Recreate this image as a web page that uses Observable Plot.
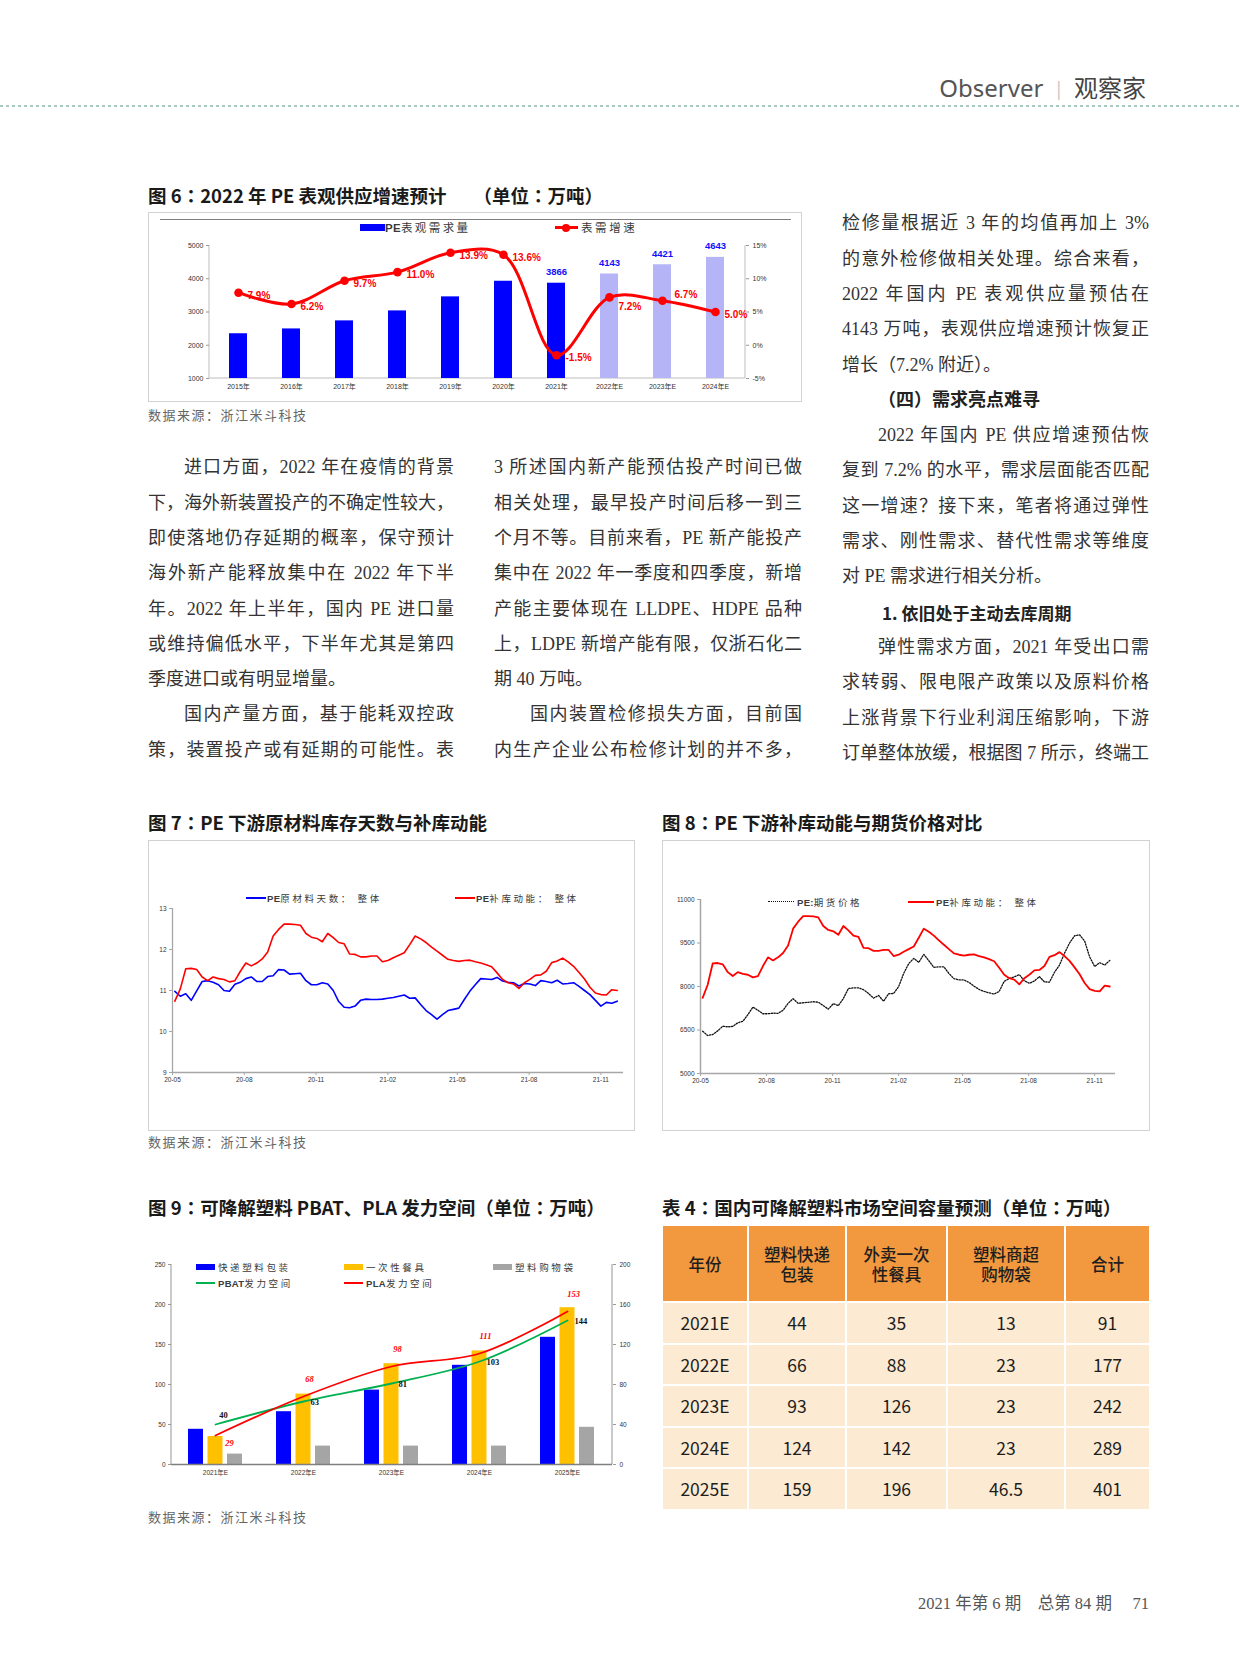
<!DOCTYPE html>
<html><head><meta charset="utf-8">
<script src="https://cdn.jsdelivr.net/npm/d3@7"></script>
<script src="https://cdn.jsdelivr.net/npm/@observablehq/plot@0.6"></script>
<style>
body{margin:0;background:#fff;}
#page{position:relative;width:1240px;height:1680px;overflow:hidden;background:#fff;font-family:"Noto Sans CJK SC","Noto Sans",sans-serif;color:#333;}
.abs{position:absolute;white-space:nowrap;}
.title{font-size:18.5px;font-weight:700;color:#1a1a1a;height:26px;line-height:26px;letter-spacing:0;}
.title .c{font-family:"Noto Sans CJK TC","Noto Sans CJK SC",sans-serif;}
.caption{font-family:"Liberation Serif","Noto Sans CJK SC",serif;font-size:13px;letter-spacing:1.5px;color:#666;height:20px;line-height:20px;}
.bline{position:absolute;box-sizing:border-box;height:35.3px;line-height:35.3px;font-size:18px;font-family:"Liberation Serif","Noto Sans CJK SC",serif;color:#333;white-space:nowrap;text-align:justify;text-align-last:justify;}
.bline.last{text-align-last:left;}
.bline.head{font-weight:700;color:#222;text-align-last:left;}
.bline.head2{font-family:"Noto Sans CJK SC",sans-serif;font-weight:700;font-size:17px;color:#222;text-align-last:left;}
.box{position:absolute;box-sizing:border-box;border:1.5px solid #d2d2d2;}
.chart{position:absolute;}
.leg{position:absolute;white-space:nowrap;font-size:9.5px;letter-spacing:2.6px;color:#3a3a3a;height:14px;line-height:14px;}
.leg b{font-family:"Liberation Sans",Arial,sans-serif;font-weight:700;letter-spacing:0.3px;}
.sw{position:absolute;}
table.t4{position:absolute;border-collapse:collapse;table-layout:fixed;}
table.t4 td{border:2px solid #fff;text-align:center;padding:0;color:#1e1e1e;}
table.t4 tr.h td{background:#f2983e;height:75px;font-size:16.5px;line-height:20px;font-weight:500;white-space:pre-line;}
table.t4 tr.r td{background:#fcead2;height:39.5px;font-size:17.5px;}
</style></head>
<body><div id="page"></div>
<script>
// ---------------- DATA ----------------
// Figure 6
const years6 = ["2015年","2016年","2017年","2018年","2019年","2020年","2021年","2022年E","2023年E","2024年E"];
const demand6 = [2346, 2491, 2733, 3033, 3455, 3925, 3866, 4143, 4421, 4643];
const growth6 = [7.9, 6.2, 9.7, 11.0, 13.9, 13.6, -1.5, 7.2, 6.7, 5.0];
const leftTicks6 = [1000, 2000, 3000, 4000, 5000];
const rightTicks6 = [-5, 0, 5, 10, 15];

// Figures 7 & 8 (weekly observations starting 2020-05-04)
const weekStart = "2020-05-04";
const stockDays7 = [10.98,10.86,10.92,10.76,10.99,11.22,11.24,11.2,11.14,11.0,10.98,11.15,11.2,11.29,11.33,11.22,11.22,11.34,11.36,11.51,11.5,11.4,11.41,11.42,11.24,11.14,11.14,11.19,11.16,11.0,10.73,10.59,10.58,10.62,10.76,10.79,10.78,10.78,10.79,10.81,10.83,10.86,10.89,10.81,10.82,10.66,10.51,10.41,10.3,10.41,10.51,10.54,10.57,10.78,10.98,11.14,11.29,11.28,11.27,11.32,11.23,11.2,11.19,11.11,11.17,11.16,11.12,11.24,11.22,11.19,11.25,11.16,11.17,11.19,11.1,11.0,10.9,10.76,10.62,10.71,10.69,10.74];
const restock7 = [10.74,11.04,11.53,11.54,11.51,11.33,11.24,11.33,11.29,11.27,11.21,11.24,11.47,11.67,11.6,11.67,11.77,11.94,12.33,12.49,12.62,12.62,12.61,12.59,12.39,12.3,12.27,12.19,12.39,12.29,12.17,12.14,11.89,11.88,11.82,11.82,11.84,11.84,11.7,11.73,11.8,11.86,11.92,12.12,12.33,12.26,12.17,12.06,11.96,11.86,11.76,11.73,11.71,11.73,11.74,11.7,11.67,11.63,11.58,11.43,11.27,11.19,11.16,11.05,11.19,11.27,11.37,11.38,11.47,11.68,11.72,11.79,11.7,11.59,11.44,11.28,11.08,10.94,10.9,10.89,11.02,11.0];
const futures8 = [6457,6309,6343,6470,6630,6610,6625,6750,6800,7030,7290,7180,7060,7060,7080,7075,7180,7420,7580,7420,7440,7455,7475,7460,7340,7220,7410,7340,7585,7930,7953,7953,7890,7760,7600,7690,7494,7750,7760,8000,8450,8790,8970,8830,9110,8890,8660,8680,8680,8450,8270,8230,8225,8140,8010,7900,7830,7780,7740,7830,8180,8275,8330,8410,8200,8110,8190,8340,8160,8150,8490,8740,9150,9500,9750,9780,9570,9020,8690,8820,8740,8900];
const monthTicks = ["20-05","20-08","20-11","21-02","21-05","21-08","21-11"];
const axisEnd78 = "2021-11-30";
const ticks7 = [9, 10, 11, 12, 13];
const ticks8 = [5000, 6500, 8000, 9500, 11000];
const restockAxis8 = [9, 13]; // hidden secondary axis of Fig 8

// Figure 9 / Table 4
const years9 = ["2021年E","2022年E","2023年E","2024年E","2025年E"];
const tableYears = ["2021E","2022E","2023E","2024E","2025E"];
const express = [44, 66, 93, 124, 159];
const takeout = [35, 88, 126, 142, 196];
const bags = [13, 23, 23, 23, 46.5];
const totals = [91, 177, 242, 289, 401];
const pbat = [40, 63, 81, 103, 144];
const pla = [29, 68, 98, 111, 153];
const leftTicks9 = [0, 50, 100, 150, 200, 250];
const rightTicks9 = [0, 40, 80, 120, 160, 200];
const tableHeaders = ["年份", "塑料快递\n包装", "外卖一次\n性餐具", "塑料商超\n购物袋", "合计"];

// ---------------- HELPERS ----------------
const page = document.getElementById("page");
const NS = "http://www.w3.org/2000/svg";
const plain = d => String(d);
function el(tag, cls, style, html) {
  const e = document.createElement(tag);
  if (cls) e.className = cls;
  if (style) e.style.cssText = style;
  if (html != null) e.innerHTML = html;
  page.appendChild(e);
  return e;
}
function chartStyle(fs) {
  return {background: "transparent", fontFamily: '"Liberation Sans", Arial, "Noto Sans CJK SC", sans-serif', fontSize: fs + "px", color: "#333", overflow: "visible"};
}
function sideLines(sides, stroke, sw) {
  return (index, scales, values, dims) => {
    const g = document.createElementNS(NS, "g");
    const L = dims.marginLeft, R = dims.width - dims.marginRight, T = dims.marginTop, B = dims.height - dims.marginBottom;
    const seg = {left: [L, T, L, B], right: [R, T, R, B], bottom: [L, B, R, B], top: [L, T, R, T]};
    for (const s of sides) {
      const [x1, y1, x2, y2] = seg[s];
      const l = document.createElementNS(NS, "line");
      l.setAttribute("x1", x1); l.setAttribute("y1", y1);
      l.setAttribute("x2", x2); l.setAttribute("y2", y2);
      l.setAttribute("stroke", stroke); l.setAttribute("stroke-width", sw);
      g.appendChild(l);
    }
    return g;
  };
}
function place(svg, left, top) {
  const d = el("div", "chart", `left:${left}px;top:${top}px;`);
  d.appendChild(svg);
  return d;
}
const parseDay = d3.utcParse("%Y-%m-%d");
const parseTick = d3.utcParse("%y-%m");
const C = '<span class="c">：</span>';

// ---------------- PAGE HEADER ----------------
el("div", "abs", "right:94px;top:69px;font-size:24px;line-height:36px;color:#4a4a4a;",
  '<span style="font-family:\'Noto Sans\',sans-serif;color:#555;">Observer</span><span style="color:#bbb;font-size:17px;margin:0 13px;position:relative;top:-2px;">|</span><span style="color:#444;">观察家</span>');
el("div", "abs", "left:0;top:105px;width:1240px;height:2px;background:repeating-linear-gradient(to right,#a7cbbd 0 3px,transparent 3px 6px);");

// ---------------- FIGURE 6 ----------------
el("div", "abs title", "left:148px;top:182px;", `图 6${C}2022 年 PE 表观供应增速预计　&nbsp;&nbsp;（单位${C}万吨）`);
el("div", "box", "left:148px;top:212px;width:654px;height:190px;");
const rows6 = years6.map((year, i) => ({year, demand: demand6[i], growth: growth6[i], forecast: year.endsWith("E")}));
const gY = g => 1000 + (g + 5) * 200; // right axis (-5%..15%) onto left axis (1000..5000)
const pctLabel = {x: "year", y: d => gY(d.growth), text: d => d.growth.toFixed(1) + "%", dx: 9, textAnchor: "start", fill: "#ff0000", fontWeight: "bold", fontSize: 10};
const fig6 = Plot.plot({
  width: 654, height: 190, marginLeft: 61, marginRight: 57, marginTop: 33, marginBottom: 24,
  style: chartStyle(7),
  x: {type: "band", domain: years6, paddingInner: 0.66, paddingOuter: 0.33},
  y: {domain: [1000, 5000]},
  marks: [
    sideLines(["left", "right", "bottom"], "#bdbdbd", 1),
    Plot.barY(rows6, {x: "year", y1: 1000, y2: "demand", fill: d => d.forecast ? "#b4b4f6" : "#0000ff"}),
    Plot.axisY({ticks: leftTicks6, tickFormat: plain, tickSize: 3, tickPadding: 3, label: null, stroke: "#999", fill: "#333"}),
    Plot.axisY({anchor: "right", ticks: rightTicks6.map(gY), tickFormat: d => ((d - 1000) / 200 - 5) + "%", tickSize: 3, tickPadding: 4, label: null, stroke: "#999", fill: "#333"}),
    Plot.axisX({tickSize: 0, tickPadding: 6, label: null, fill: "#333"}),
    Plot.line(rows6, {x: "year", y: d => gY(d.growth), stroke: "#ff0000", strokeWidth: 3, curve: "catmull-rom"}),
    Plot.dot(rows6, {x: "year", y: d => gY(d.growth), r: 4.3, fill: "#ff0000"}),
    Plot.text(rows6.filter(d => d.year !== "2022年E" && d.year !== "2023年E"), {...pctLabel, dy: 3}),
    Plot.text(rows6.filter(d => d.year === "2022年E"), {...pctLabel, dy: 9}),
    Plot.text(rows6.filter(d => d.year === "2023年E"), {...pctLabel, dx: 12, dy: -6}),
    Plot.text(rows6.filter(d => d.year >= "2021"), {x: "year", y: "demand", text: d => String(d.demand), dy: -11, fill: "#1010ff", fontWeight: "bold", fontSize: 9.5})
  ]
});
place(fig6, 148, 212);
el("div", "sw", "left:160px;top:218.5px;width:631px;height:1.5px;background:#7f7f7f;");
el("div", "sw", "left:360px;top:224px;width:25px;height:7px;background:#0000ff;");
el("div", "leg", "left:385px;top:220px;font-size:11.5px;letter-spacing:2.4px;", "<b>PE</b>表观需求量");
el("div", "sw", "left:555px;top:226px;width:23px;height:3px;background:#ff0000;");
el("div", "sw", "left:562px;top:223.5px;width:8px;height:8px;border-radius:50%;background:#ff0000;");
el("div", "leg", "left:581px;top:220px;font-size:11.5px;letter-spacing:2.6px;", "表需增速");
el("div", "abs caption", "left:148px;top:406px;", "数据来源：浙江米斗科技");

// ---------------- BODY TEXT ----------------
const colLeft = [
  ["进口方面，2022 年在疫情的背景", "i"], ["下，海外新装置投产的不确定性较大，"], ["即使落地仍存延期的概率，保守预计"],
  ["海外新产能释放集中在 2022 年下半"], ["年。2022 年上半年，国内 PE 进口量"], ["或维持偏低水平，下半年尤其是第四"],
  ["季度进口或有明显增量。", "l"], ["国内产量方面，基于能耗双控政", "i"], ["策，装置投产或有延期的可能性。表"]
];
const colMid = [
  ["3 所述国内新产能预估投产时间已做"], ["相关处理，最早投产时间后移一到三"], ["个月不等。目前来看，PE 新产能投产"],
  ["集中在 2022 年一季度和四季度，新增"], ["产能主要体现在 LLDPE、HDPE 品种"], ["上，LDPE 新增产能有限，仅浙石化二"],
  ["期 40 万吨。", "l"], ["国内装置检修损失方面，目前国", "i"], ["内生产企业公布检修计划的并不多，"]
];
const colRight = [
  ["检修量根据近 3 年的均值再加上 3%"], ["的意外检修做相关处理。综合来看，"], ["2022 年国内 PE 表观供应量预估在"],
  ["4143 万吨，表观供应增速预计恢复正"], ["增长（7.2% 附近）。", "l"], ["（四）需求亮点难寻", "h"],
  ["2022 年国内 PE 供应增速预估恢", "i"], ["复到 7.2% 的水平，需求层面能否匹配"], ["这一增速？接下来，笔者将通过弹性"],
  ["需求、刚性需求、替代性需求等维度"], ["对 PE 需求进行相关分析。", "l"], ["1. 依旧处于主动去库周期", "h2"],
  ["弹性需求方面，2021 年受出口需", "i"], ["求转弱、限电限产政策以及原料价格"], ["上涨背景下行业利润压缩影响，下游"],
  ["订单整体放缓，根据图 7 所示，终端工"]
];
function column(lines, left, width, firstCenter) {
  lines.forEach(([t, f], k) => {
    let cls = "bline", pad = 0;
    if (f === "i") pad = 36;
    if (f === "l") cls += " last";
    if (f === "h") { cls += " head"; pad = 36; }
    if (f === "h2") { cls += " head2"; pad = 40; }
    const top = firstCenter + k * 35.3 - 17.65;
    const d = el("div", cls, `left:${left}px;top:${top}px;width:${width}px;padding-left:${pad}px;`);
    d.textContent = t;
  });
}
column(colLeft, 148, 306, 468);
column(colMid, 494, 308, 468);
column(colRight, 842, 307, 224);

// ---------------- FIGURE 7 ----------------
const t0 = parseDay(weekStart);
const weekRows = stockDays7.map((v, i) => ({date: d3.utcDay.offset(t0, 7 * i), days: v, restock: restock7[i], futures: futures8[i]}));
const tickDates = monthTicks.map(parseTick);
const xDomain78 = [tickDates[0], parseDay(axisEnd78)];
el("div", "abs title", "left:148px;top:809px;", `图 7${C}PE 下游原材料库存天数与补库动能`);
el("div", "box", "left:148px;top:840px;width:487px;height:291px;");
const fig7 = Plot.plot({
  width: 487, height: 291, marginLeft: 24, marginRight: 12, marginTop: 68, marginBottom: 59,
  style: chartStyle(6.5),
  x: {type: "utc", domain: xDomain78},
  y: {domain: [ticks7[0], ticks7[ticks7.length - 1]]},
  marks: [
    Plot.ruleY([ticks7[0]], {stroke: "#a6a6a6", strokeWidth: 1.3}),
    Plot.ruleX([xDomain78[0]], {y1: ticks7[0], y2: ticks7[ticks7.length - 1], stroke: "#a6a6a6", strokeWidth: 1.3}),
    Plot.axisY({ticks: ticks7, tickFormat: plain, tickSize: 3, tickPadding: 3, label: null, stroke: "#a6a6a6", fill: "#333"}),
    Plot.axisX({ticks: tickDates, tickFormat: d3.utcFormat("%y-%m"), tickSize: 3, tickPadding: 2, label: null, stroke: "#a6a6a6", fill: "#333"}),
    Plot.line(weekRows, {x: "date", y: "days", stroke: "#0000ff", strokeWidth: 1.6}),
    Plot.line(weekRows, {x: "date", y: "restock", stroke: "#ff0000", strokeWidth: 1.6})
  ]
});
place(fig7, 148, 840);
el("div", "sw", "left:246px;top:897px;width:20px;height:2px;background:#0000ff;");
el("div", "leg", "left:267px;top:891px;", "<b>PE</b>原材料天数：&nbsp;整体");
el("div", "sw", "left:455px;top:897px;width:20px;height:2px;background:#ff0000;");
el("div", "leg", "left:476px;top:891px;", "<b>PE</b>补库动能：&nbsp;整体");
el("div", "abs caption", "left:148px;top:1133px;", "数据来源：浙江米斗科技");

// ---------------- FIGURE 8 ----------------
el("div", "abs title", "left:662px;top:809px;", `图 8${C}PE 下游补库动能与期货价格对比`);
el("div", "box", "left:662px;top:840px;width:488px;height:291px;");
const [y8lo, y8hi] = [ticks8[0], ticks8[ticks8.length - 1]];
const toLeft8 = v => y8lo + (v - restockAxis8[0]) * (y8hi - y8lo) / (restockAxis8[1] - restockAxis8[0]);
const fig8 = Plot.plot({
  width: 488, height: 291, marginLeft: 38, marginRight: 35, marginTop: 59, marginBottom: 58,
  style: chartStyle(6.5),
  x: {type: "utc", domain: xDomain78},
  y: {domain: [y8lo, y8hi]},
  marks: [
    Plot.ruleY([y8lo], {stroke: "#a6a6a6", strokeWidth: 1.5}),
    Plot.ruleX([xDomain78[0]], {y1: y8lo, y2: y8hi, stroke: "#a6a6a6", strokeWidth: 1.5}),
    Plot.axisY({ticks: ticks8, tickFormat: plain, tickSize: 3, tickPadding: 3, label: null, stroke: "#a6a6a6", fill: "#333"}),
    Plot.axisX({ticks: tickDates, tickFormat: d3.utcFormat("%y-%m"), tickSize: 3, tickPadding: 2, label: null, stroke: "#a6a6a6", fill: "#333"}),
    Plot.line(weekRows, {x: "date", y: "futures", stroke: "#111", strokeWidth: 1.3, strokeDasharray: "1.3,1.5"}),
    Plot.line(weekRows, {x: "date", y: d => toLeft8(d.restock), stroke: "#ff0000", strokeWidth: 1.8})
  ]
});
place(fig8, 662, 840);
el("div", "sw", "left:768px;top:901px;width:26px;height:0;border-top:1.3px dotted #111;");
el("div", "leg", "left:797px;top:895px;", "<b>PE:</b>期货价格");
el("div", "sw", "left:908px;top:901px;width:26px;height:2px;background:#ff0000;");
el("div", "leg", "left:936px;top:895px;", "<b>PE</b>补库动能：&nbsp;整体");

// ---------------- FIGURE 9 ----------------
el("div", "abs title", "left:148px;top:1194px;", `图 9${C}可降解塑料 PBAT、PLA 发力空间（单位${C}万吨）`);
const rows9 = years9.map((year, i) => ({year, express: express[i], takeout: takeout[i], bags: bags[i], pbat: pbat[i], pla: pla[i], first: i === 0}));
const k9 = leftTicks9[leftTicks9.length - 1] / rightTicks9[rightTicks9.length - 1]; // right axis onto left
const bw9 = 88.2 * (1 - 0.382), barW9 = 15.5, gap9 = (bw9 - 3 * barW9) / 2;
const serifLbl = "Liberation Serif, serif";
const fig9 = Plot.plot({
  width: 490, height: 250, marginLeft: 23, marginRight: 26, marginTop: 24, marginBottom: 26,
  style: chartStyle(6.5),
  x: {type: "band", domain: years9, paddingInner: 0.382, paddingOuter: 0.191},
  y: {domain: [0, 250]},
  marks: [
    sideLines(["left", "right"], "#a6a6a6", 1.2),
    Plot.barY(rows9, {x: "year", y: "express", fill: "#0000ff", insetLeft: 0, insetRight: bw9 - barW9}),
    Plot.barY(rows9, {x: "year", y: "takeout", fill: "#ffc000", insetLeft: barW9 + gap9, insetRight: barW9 + gap9}),
    Plot.barY(rows9, {x: "year", y: "bags", fill: "#a5a5a5", insetLeft: bw9 - barW9, insetRight: 0}),
    Plot.ruleY([0], {stroke: "#7f7f7f", strokeWidth: 1.5}),
    Plot.axisY({ticks: leftTicks9, tickFormat: plain, tickSize: 3, tickPadding: 3, label: null, stroke: "#999", fill: "#333"}),
    Plot.axisY({anchor: "right", ticks: rightTicks9.map(v => v * k9), tickFormat: d => String(d / k9), tickSize: 3, tickPadding: 4, label: null, stroke: "#999", fill: "#333"}),
    Plot.axisX({tickSize: 0, tickPadding: 6, label: null, fill: "#333"}),
    Plot.line(rows9, {x: "year", y: d => d.pbat * k9, stroke: "#00b050", strokeWidth: 1.8, curve: "catmull-rom"}),
    Plot.line(rows9, {x: "year", y: d => d.pla * k9, stroke: "#ff0000", strokeWidth: 1.8, curve: "catmull-rom"}),
    Plot.text(rows9.filter(d => d.first), {x: "year", y: d => d.pbat * k9, text: d => String(d.pbat), dx: 8, dy: -9, fill: "#111", fontWeight: "bold", fontSize: 8.5, fontFamily: serifLbl}),
    Plot.text(rows9.filter(d => !d.first), {x: "year", y: d => d.pbat * k9, text: d => String(d.pbat), dx: 7, dy: 1, textAnchor: "start", fill: "#111", fontWeight: "bold", fontSize: 8.5, fontFamily: serifLbl}),
    Plot.text(rows9.filter(d => d.first), {x: "year", y: d => d.pla * k9, text: d => String(d.pla), dx: 14, dy: 8, fill: "#ff0000", fontWeight: "bold", fontStyle: "italic", fontSize: 8.5, fontFamily: serifLbl}),
    Plot.text(rows9.filter(d => !d.first), {x: "year", y: d => d.pla * k9, text: d => String(d.pla), dx: 6, dy: -17, fill: "#ff0000", fontWeight: "bold", fontStyle: "italic", fontSize: 8.5, fontFamily: serifLbl})
  ]
});
place(fig9, 148, 1240);
el("div", "sw", "left:196px;top:1264px;width:19px;height:6px;background:#0000ff;");
el("div", "leg", "left:218px;top:1260px;", "快递塑料包装");
el("div", "sw", "left:344px;top:1264px;width:19px;height:6px;background:#ffc000;");
el("div", "leg", "left:366px;top:1260px;", "一次性餐具");
el("div", "sw", "left:493px;top:1264px;width:19px;height:6px;background:#a5a5a5;");
el("div", "leg", "left:515px;top:1260px;", "塑料购物袋");
el("div", "sw", "left:196px;top:1282px;width:19px;height:1.6px;background:#00b050;");
el("div", "leg", "left:218px;top:1276px;", "<b>PBAT</b>发力空间");
el("div", "sw", "left:344px;top:1282px;width:19px;height:1.6px;background:#ff0000;");
el("div", "leg", "left:366px;top:1276px;", "<b>PLA</b>发力空间");
el("div", "abs caption", "left:148px;top:1508px;", "数据来源：浙江米斗科技");

// ---------------- TABLE 4 ----------------
el("div", "abs title", "left:662px;top:1194px;", `表 4${C}国内可降解塑料市场空间容量预测（单位${C}万吨）`);
const colW = [86, 98, 101, 118, 85];
const tbl = el("table", "t4", "left:661px;top:1224px;width:490px;");
const cg = document.createElement("colgroup");
colW.forEach(w => { const c = document.createElement("col"); c.style.width = w + "px"; cg.appendChild(c); });
tbl.appendChild(cg);
const tb = document.createElement("tbody");
const hr = document.createElement("tr"); hr.className = "h";
tableHeaders.forEach(h => { const td = document.createElement("td"); td.textContent = h; hr.appendChild(td); });
tb.appendChild(hr);
tableYears.forEach((y, i) => {
  const tr = document.createElement("tr"); tr.className = "r";
  [y, express[i], takeout[i], bags[i], totals[i]].forEach(v => { const td = document.createElement("td"); td.textContent = String(v); tr.appendChild(td); });
  tb.appendChild(tr);
});
tbl.appendChild(tb);

// ---------------- FOOTER ----------------
el("div", "abs", "right:91px;top:1592px;font-size:16.5px;line-height:24px;font-family:'Liberation Serif','Noto Sans CJK SC',serif;color:#555;",
  "2021 年第 6 期&nbsp;&nbsp;&nbsp;&nbsp;总第 84 期&nbsp;&nbsp;&nbsp;&nbsp;&nbsp;71");
</script>
</body></html>
